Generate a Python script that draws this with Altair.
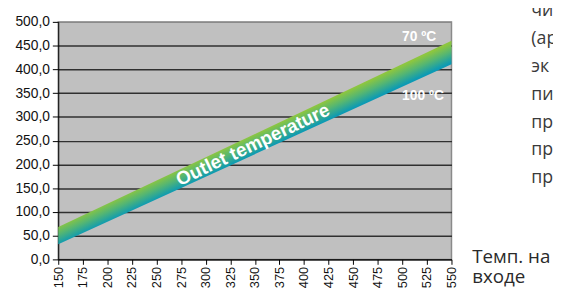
import altair as alt
import pandas as pd

# Data
inlet = [150, 550]            # inlet temperature (x)
outlet_70 = [68, 460]         # upper edge of band (70 ºC)
outlet_100 = [32, 411]        # lower edge of band (100 ºC)

x_ticks = list(range(150, 551, 25))
y_ticks = list(range(0, 501, 50))

side_lines = ["чи", "(ар", "эк", "пи", "пр", "пр", "пр"]
x_title_lines = ["Темп. на", "входе"]

band_df = pd.DataFrame({"inlet": inlet, "t70": outlet_70, "t100": outlet_100})

x_scale = alt.Scale(domain=[150, 550], nice=False, zero=False)
y_scale = alt.Scale(domain=[0, 500], nice=False)

x_axis = alt.Axis(
    values=x_ticks, labelAngle=270, labelAlign="right", labelBaseline="middle",
    labelFont="Liberation Sans", labelFontSize=13, labelColor="#111",
    tickColor="#000", tickSize=5, labelPadding=2, domainColor="#000",
    grid=False, title=None, labelOverlap=False,
)
y_axis = alt.Axis(
    values=y_ticks, labelExpr="replace(format(datum.value, '.1f'), '.', ',')",
    labelFont="Liberation Sans", labelFontSize=14, labelColor="#111",
    tickColor="#000", tickSize=6, labelPadding=3, domainColor="#000",
    grid=True, gridColor=alt.condition("datum.value == 500", alt.value("#8a8a8a"), alt.value("#303030")),
    gridWidth=1.5, title=None, labelOverlap=False,
)

band = alt.Chart(band_df).mark_area(
    fill=alt.Gradient(
        gradient="linear",
        stops=[
            alt.GradientStop(color="#8dc63f", offset=0),
            alt.GradientStop(color="#55b672", offset=0.45),
            alt.GradientStop(color="#0c9ab4", offset=1),
        ],
        x1=0.5, y1=0.4575, x2=0.549, y2=0.512,
    ),
    interpolate="linear",
).encode(
    x=alt.X("inlet:Q", scale=x_scale, axis=x_axis),
    y=alt.Y("t70:Q", scale=y_scale, axis=y_axis),
    y2="t100:Q",
)


def annotation(text, x, y, **kw):
    return alt.Chart().mark_text(
        text=text, color="white", align="center", baseline="middle",
        font="Liberation Sans", fontWeight="bold", **kw
    ).encode(
        x=alt.X(datum=x, type="quantitative", scale=x_scale, axis=x_axis),
        y=alt.Y(datum=y, type="quantitative", scale=y_scale, axis=y_axis),
    )


label_main = annotation("Outlet temperature", 348, 241, angle=334.6, fontSize=19)
label_70 = annotation("70 ºC", 517, 467, fontSize=14)
label_100 = annotation("100 ºC", 521, 344, fontSize=14)

side_text = alt.Chart().mark_text(
    text=side_lines, font="Open Sans", fontSize=18, color="#3a3a3a",
    align="left", baseline="middle", lineHeight=28.3,
).encode(x=alt.value(480), y=alt.value(-11))

x_title = alt.Chart().mark_text(
    text=x_title_lines, font="Open Sans", fontSize=19, color="#2a2a2a",
    align="left", baseline="middle", lineHeight=20,
).encode(x=alt.value(420), y=alt.value(239))

chart = alt.layer(band, label_main, label_70, label_100, side_text, x_title).properties(
    width=399, height=241,
    autosize=alt.AutoSizeParams(type="none"),
    padding={"left": 51, "top": 12, "right": 103, "bottom": 30},
    background="white",
).configure_view(
    fill="#c0c0c0", stroke="#8a8a8a", strokeWidth=1.5,
)

chart.save("out.html", embed_options={"renderer": "svg", "actions": False})
